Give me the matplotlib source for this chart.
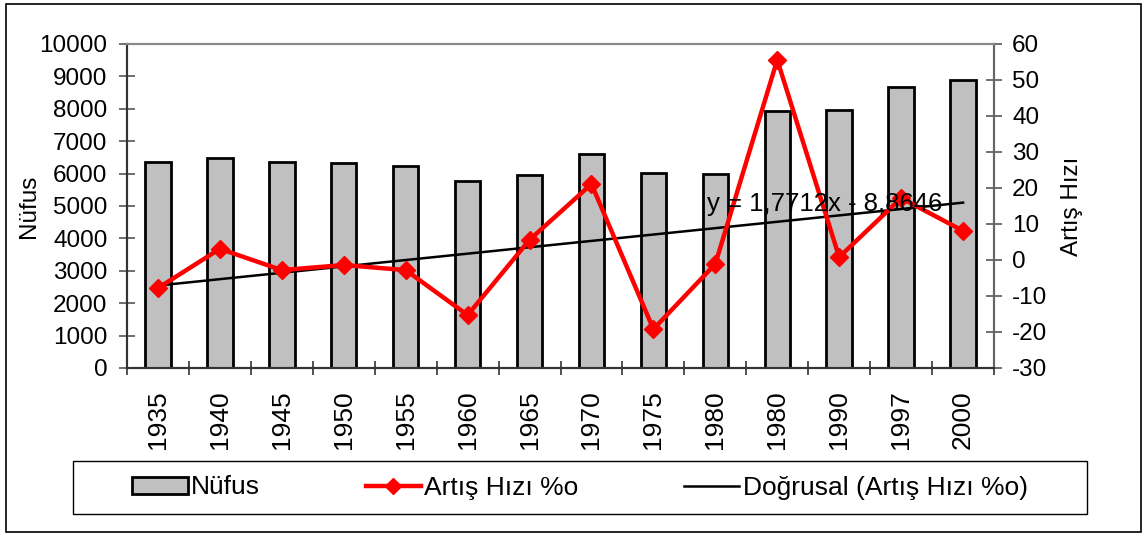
import numpy as np
import matplotlib.pyplot as plt
from matplotlib.patches import Rectangle, Patch
from matplotlib.lines import Line2D

plt.rcParams['font.family'] = ['Liberation Sans', 'DejaVu Sans']
plt.rcParams['font.size'] = 17.5
plt.rcParams['axes.unicode_minus'] = False

years = ['1935', '1940', '1945', '1950', '1955', '1960', '1965',
         '1970', '1975', '1980', '1980', '1990', '1997', '2000']
nufus = [6350, 6470, 6360, 6330, 6230, 5780, 5960,
         6600, 6020, 5990, 7930, 7960, 8670, 8880]
artis_hizi = [-7.8, 3.1, -2.8, -1.4, -2.8, -15.3, 5.6,
              21.1, -19.2, -1.1, 55.6, 0.8, 17.2, 8.1]
trend_slope = 1.7712
trend_intercept = -8.8646

W, H = 1148, 536
fig = plt.figure(figsize=(W / 100, H / 100), dpi=100)
ax = fig.add_axes([127 / W, 1 - 368 / H, 867 / W, 324 / H])
ax2 = ax.twinx()

pos = np.arange(len(years))
ax.bar(pos, nufus, width=0.41, color='#c0c0c0', edgecolor='black', linewidth=2, zorder=2)
ax.set_xlim(-0.5, len(years) - 0.5)
ax.set_ylim(0, 10000)
ax.set_yticks(range(0, 10001, 1000))
ax.set_xticks(np.arange(len(years) + 1) - 0.5, minor=False)
ax.set_xticklabels([])
ax.set_xticks(pos, minor=True)
ax.set_xticklabels(years, minor=True, rotation=90, fontsize=19)
ax.tick_params(axis='x', which='major', direction='inout', length=10, width=1.2, color='#333333')
ax.tick_params(axis='x', which='minor', length=0, pad=16)
ax.tick_params(axis='y', direction='inout', length=12, width=1.2, color='#555555', pad=8)
ax.set_ylabel('Nüfus', labelpad=0)

# trend line from the equation shown on the chart
xs = pos + 1
trend = trend_slope * xs + trend_intercept
ax2.plot(pos, trend, color='black', linewidth=1.8, zorder=3)
ax2.plot(pos, artis_hizi, color='red', linewidth=3.2, marker='D', markersize=9.5,
         markeredgecolor='red', zorder=4)
ax2.set_ylim(-30, 60)
ax2.set_yticks(range(-30, 61, 10))
ax2.tick_params(axis='y', direction='inout', length=12, width=1.2, color='#555555', pad=7)
ax2.set_ylabel('Artış Hızı', labelpad=10)
ax2.text(8.87, 15.5, 'y = 1,7712x - 8,8646', fontsize=18.5, va='center', ha='left', zorder=5)

for a in (ax, ax2):
    a.spines['top'].set_color('#888888')
    a.spines['right'].set_color('#666666')
    a.spines['left'].set_color('#333333')
    a.spines['bottom'].set_color('#333333')
    for s in a.spines.values():
        s.set_linewidth(1.5)

# legend box drawn separately, entries centered inside it
lx0, ly0, lx1, ly1 = 73, 461, 1087, 514
fig.add_artist(Rectangle((lx0 / W, 1 - ly1 / H), (lx1 - lx0) / W, (ly1 - ly0) / H,
                         transform=fig.transFigure, fill=False, edgecolor='black', linewidth=1.0))
handles = [Patch(facecolor='#c0c0c0', edgecolor='black', linewidth=2),
           Line2D([], [], color='red', linewidth=3.2, marker='D', markersize=8),
           Line2D([], [], color='black', linewidth=1.8)]
labels = ['Nüfus', 'Artış Hızı %o', 'Doğrusal (Artış Hızı %o)']
fig.legend(handles, labels, loc='center', ncol=3,
           bbox_to_anchor=((lx0 + lx1) / 2 / W, 1 - (ly0 + ly1) / 2 / H),
           frameon=False, handlelength=2.1, handleheight=0.6, handletextpad=0.12,
           columnspacing=4.0, borderpad=0, fontsize=19)

fig.add_artist(Rectangle((6 / W, 4 / H), 1135 / W, 528 / H, transform=fig.transFigure,
                         fill=False, edgecolor='black', linewidth=1.2))

fig.savefig('out.png', dpi=100)
